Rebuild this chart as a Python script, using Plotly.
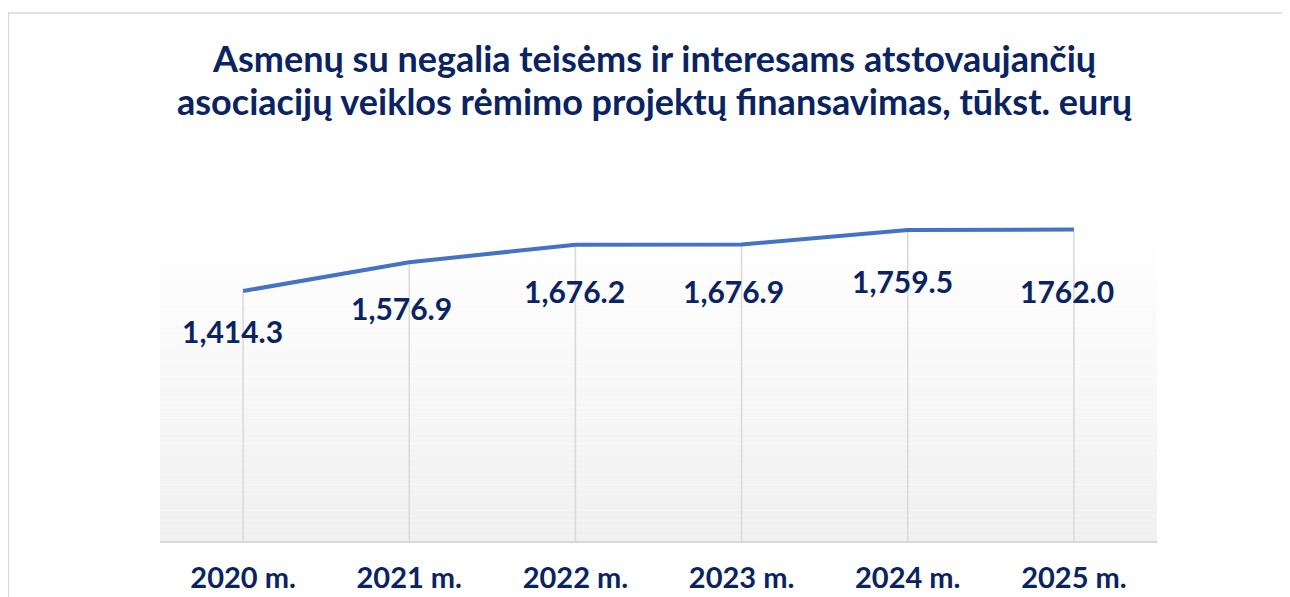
import plotly.graph_objects as go

categories = ["2020 m.", "2021 m.", "2022 m.", "2023 m.", "2024 m.", "2025 m."]
values = [1414.3, 1576.9, 1676.2, 1676.9, 1759.5, 1762.0]
value_labels = ["1,414.3", "1,576.9", "1,676.2", "1,676.9", "1,759.5", "1762.0"]
label_drop = [40, 46, 46, 46, 51, 61]
label_dx = [-11, -8, -1, -8, -5, -7]
title_lines = ["Asmenų su negalia teisėms ir interesams atstovaujančių",
               "asociacijų veiklos rėmimo projektų finansavimas, tūkst. eurų"]

NAVY = "#0a2362"
FONT = "Lato"

OFF = 8  # default page body margin
W, H = 1290 - OFF, 597 - OFF
L, R, T, B = 160 - OFF, 1157 - OFF, 200 - OFF, 541 - OFF
pw, ph = R - L, B - T


def px_x(p):
    return (p - OFF - L) / pw


def px_y(p):
    return (B - (p - OFF)) / ph


fig = go.Figure()

# gradient background for plot area
g_top = px_y(233)
n = 60
for i in range(n):
    y0 = g_top * i / n
    y1 = g_top * (i + 1) / n
    t = i / (n - 1)  # 0 bottom, 1 top
    c = int(round(240 + (255 - 240) * t))
    fig.add_shape(type="rect", xref="paper", yref="paper", x0=0, x1=1, y0=y0, y1=y1,
                  fillcolor=f"rgb({c},{c},{c})", line=dict(width=0), layer="below")

# chart border
fig.add_shape(type="rect", xref="paper", yref="paper",
              x0=px_x(8.5), x1=px_x(1300),
              y0=px_y(610), y1=px_y(13),
              line=dict(color="#d9d9d9", width=1.3), fillcolor="rgba(0,0,0,0)", layer="below")

fig.add_trace(go.Scatter(
    x=categories, y=values, mode="lines",
    line=dict(color="#4472c4", width=4),
    error_y=dict(type="data", symmetric=False, array=[0] * len(values), arrayminus=values,
                 width=0, color="#d9d9d9", thickness=1.5),
    cliponaxis=False, hoverinfo="skip", showlegend=False,
))

for c, v, lab, dy, dx in zip(categories, values, value_labels, label_drop, label_dx):
    fig.add_annotation(x=c, y=v, text=lab, showarrow=False, yshift=-dy, xshift=dx,
                       font=dict(family=FONT, size=30, color=NAVY, weight="bold"),
                       xanchor="center", yanchor="middle")

for line, py in zip(title_lines, [58, 101]):
    fig.add_annotation(xref="paper", yref="paper", x=px_x(654), y=px_y(py), text=line,
                       showarrow=False, xanchor="center", yanchor="middle",
                       font=dict(family=FONT, size=36, color=NAVY, weight="bold"))

fig.update_layout(
    width=W, height=H,
    margin=dict(l=L, r=W - R, t=T, b=H - B, autoexpand=False),
    paper_bgcolor="white", plot_bgcolor="rgba(0,0,0,0)",
    xaxis=dict(range=[-0.5, 5.5], showgrid=False, zeroline=False, showline=True,
               linecolor="#d9d9d9", linewidth=1.5, ticks="", automargin=False,
               tickfont=dict(family=FONT, size=29, color=NAVY, weight="bold"),
               ticklabelstandoff=10, fixedrange=True),
    yaxis=dict(range=[0, 341 * 1414.3 / 250], visible=False, fixedrange=True),
)

fig.write_html("out.html")
